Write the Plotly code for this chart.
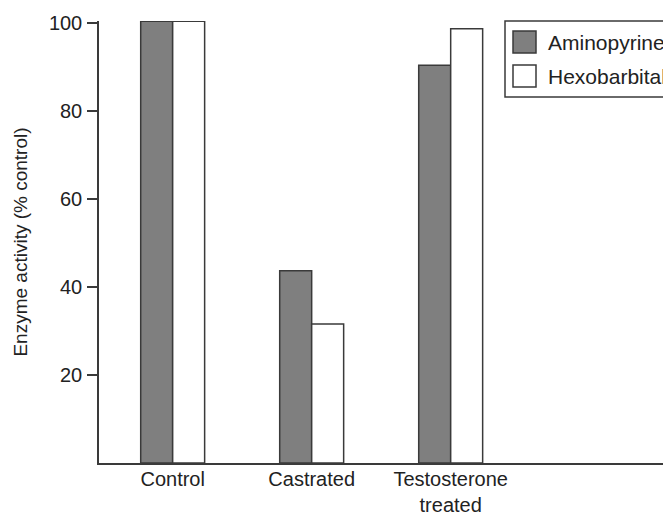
import plotly.graph_objects as go

categories = ["Control", "Castrated", "Testosterone<br>treated"]
aminopyrine = [100.4, 43.7, 90.4]
hexobarbital = [100.4, 31.6, 98.7]
series_names = ["Aminopyrine", "Hexobarbital"]
y_ticks = [20, 40, 60, 80, 100]

FONT = "Liberation Sans, Arial, sans-serif"
# page body has an 8px margin, so the figure is sized to fit the window
W, H = 663, 507
L, R, T, B = 91, 0, 13, 52
pw, ph = W - L - R, H - T - B

def px(x):
    return (x - L) / pw

def py(y):
    return (H - B - y) / ph

line_col = "#3a3a3a"
txt_col = "#222222"

fig = go.Figure()
fig.add_trace(go.Bar(x=categories, y=aminopyrine, name=series_names[0],
                     marker=dict(color="#7f7f7f", line=dict(color=line_col, width=1.5)),
                     cliponaxis=False, showlegend=False))
fig.add_trace(go.Bar(x=categories, y=hexobarbital, name=series_names[1],
                     marker=dict(color="#ffffff", line=dict(color=line_col, width=1.5)),
                     cliponaxis=False, showlegend=False))

# manual legend (box extends past the right edge, as in the reference)
shapes = [
    dict(type="rect", xref="paper", yref="paper", x0=px(497), x1=px(690), y0=py(89), y1=py(13),
         line=dict(color=line_col, width=1.5), fillcolor="rgba(0,0,0,0)"),
    dict(type="rect", xref="paper", yref="paper", x0=px(505), x1=px(528), y0=py(45), y1=py(23),
         line=dict(color=line_col, width=1.5), fillcolor="#7f7f7f"),
    dict(type="rect", xref="paper", yref="paper", x0=px(505), x1=px(528), y0=py(79), y1=py(57),
         line=dict(color=line_col, width=1.5), fillcolor="#ffffff"),
]
annotations = [
    dict(xref="paper", yref="paper", x=px(538), y=py(34), text=series_names[0], showarrow=False,
         xanchor="left", yanchor="middle", font=dict(family=FONT, size=21, color=txt_col)),
    dict(xref="paper", yref="paper", x=px(538), y=py(68), text=series_names[1], showarrow=False,
         xanchor="left", yanchor="middle", font=dict(family=FONT, size=21, color=txt_col)),
]

fig.update_layout(
    width=W, height=H,
    margin=dict(l=L, r=R, t=T, b=B),
    paper_bgcolor="white", plot_bgcolor="white",
    barmode="group", bargap=0.54, bargroupgap=0,
    font=dict(family=FONT, size=20, color=txt_col),
    shapes=shapes, annotations=annotations,
    xaxis=dict(range=[-0.53, 3.585], showline=True, linecolor=line_col, linewidth=1.5,
               ticks="", showgrid=False, zeroline=False, tickfont=dict(size=20),
               ticklabelstandoff=-3, automargin=False),
    yaxis=dict(range=[0, 100.45], showline=True, linecolor=line_col, linewidth=1.5,
               tickvals=y_ticks, ticks="outside", ticklen=10, tickwidth=1.5, tickcolor=line_col,
               showgrid=False, zeroline=False, tickfont=dict(size=20),
               ticklabelstandoff=1,
               title=dict(text="Enzyme activity (% control)", font=dict(size=19), standoff=16),
               automargin=False),
)

fig.write_html("out.html")
